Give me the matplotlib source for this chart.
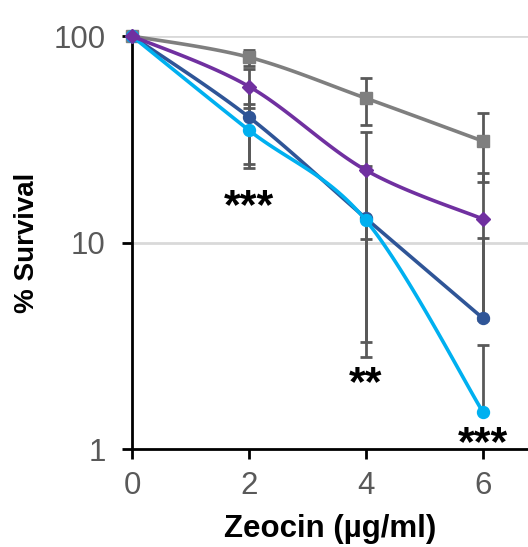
import numpy as np
import matplotlib.pyplot as plt

doses = [0, 2, 4, 6]

grey_surv = [100, 79, 50, 31]
grey_err = [0, 7, 13, 11.4]
purple_surv = [100, 57, 22.4, 13]
purple_err = [0, 12, 12, 8.8]
navy_surv = [100, 40.5, 13.1, 4.3]
navy_err = [0, 16.5, 10.3, 6.2]
cyan_surv = [100, 35, 12.8, 1.51]
cyan_err = [0, 12, 9.5, 1.67]

stars = ['', '***', '**', '***']
star_y = [None, 14.9, 2.06, 1.06]


def smooth(x, y, n=40):
    # bezier smoothing through the points, done in log space
    x = np.asarray(x, float)
    ly = np.log10(y)
    px = np.concatenate([[x[0]], x, [x[-1]]])
    py = np.concatenate([[ly[0]], ly, [ly[-1]]])
    xs, ys = [], []
    t = np.linspace(0, 1, n)
    for i in range(1, len(px) - 2):
        p0 = np.array([px[i], py[i]])
        p3 = np.array([px[i + 1], py[i + 1]])
        c1 = p0 + (p3 - np.array([px[i - 1], py[i - 1]])) / 6
        c2 = p3 - (np.array([px[i + 2], py[i + 2]]) - p0) / 6
        b = ((1 - t) ** 3)[:, None] * p0 + (3 * (1 - t) ** 2 * t)[:, None] * c1 \
            + (3 * (1 - t) * t ** 2)[:, None] * c2 + (t ** 3)[:, None] * p3
        xs.extend(b[:, 0])
        ys.extend(b[:, 1])
    return np.array(xs), 10 ** np.array(ys)


fig = plt.figure(figsize=(5.28, 5.47), dpi=100)
ax = fig.add_axes([0.25, 0.179, 0.75, 0.755])
ax.set_yscale('log')
ax.set_ylim(1, 100)
ax.set_xlim(0, 6.77)

for v in [10, 100]:
    ax.axhline(v, color='#d9d9d9', lw=2, zorder=0)

series = [
    (grey_surv, grey_err, '#7f7f7f', 's', 9),
    (navy_surv, navy_err, '#2f5597', 'o', 8.6),
    (cyan_surv, cyan_err, '#00b0f0', 'o', 8.6),
    (purple_surv, purple_err, '#7030a0', 'D', 7),
]

# error bars first, so the lines sit on top
for surv, err, col, mk, ms in series:
    lower = [e if e < s else 0 for s, e in zip(surv[1:], err[1:])]
    ax.errorbar(doses[1:], surv[1:], yerr=[lower, err[1:]], fmt='none',
                ecolor='#595959', elinewidth=2, capsize=4.5, capthick=2,
                zorder=2)

for z, (surv, err, col, mk, ms) in enumerate(series):
    sx, sy = smooth(doses, surv)
    ax.plot(sx, sy, color=col, lw=2.6, zorder=3 + z, clip_on=False)
    ax.plot(doses, surv, ls='none', marker=mk, ms=ms, color=col,
            zorder=3 + z, clip_on=False)

for d, lab, sy in zip(doses, stars, star_y):
    if lab:
        ax.text(d, sy, lab, ha='center', va='center', fontweight='bold',
                fontsize=31, family='Liberation Sans')

ax.set_xticks(doses)
ax.set_yticks([1, 10, 100])
ax.set_yticklabels(['1', '10', '100'])
ax.minorticks_off()
ax.tick_params(axis='both', labelsize=22.5, colors='black', width=2,
               length=7, direction='out')
ax.tick_params(axis='x', pad=9)
ax.tick_params(axis='y', pad=12)
for lbl in ax.get_xticklabels() + ax.get_yticklabels():
    lbl.set_family('Liberation Sans')
    lbl.set_color('#595959')

for side in ['top', 'right']:
    ax.spines[side].set_visible(False)
for side in ['left', 'bottom']:
    ax.spines[side].set_linewidth(2)
    ax.spines[side].set_color('black')

ax.set_xlabel('Zeocin (µg/ml)', fontsize=22.5, fontweight='bold',
              family='Liberation Sans', labelpad=9)
ax.set_ylabel('% Survival', fontsize=20, fontweight='bold',
              family='Liberation Sans', labelpad=10)

fig.savefig('out.png', dpi=100)
